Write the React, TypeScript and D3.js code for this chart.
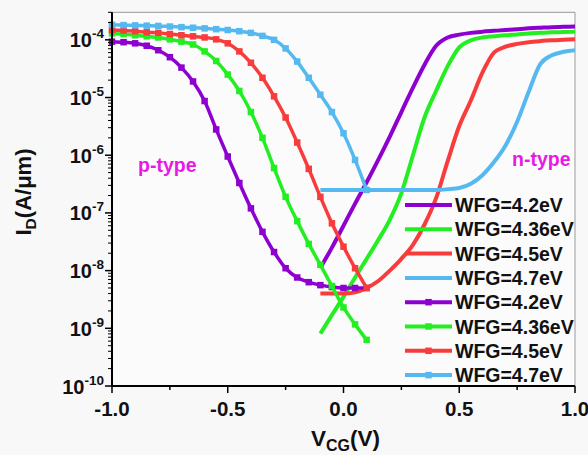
import React from "react";
import * as d3 from "d3";

// ---------- data ----------
const X_P = [-1.0, -0.95, -0.9, -0.85, -0.8, -0.75, -0.7, -0.65, -0.6, -0.55, -0.5, -0.45, -0.4, -0.35, -0.3, -0.25, -0.2, -0.15, -0.1, -0.05, 0.0, 0.05, 0.1];
const X_N = [-0.1, -0.05, 0.0, 0.05, 0.1, 0.15, 0.2, 0.25, 0.3, 0.35, 0.4, 0.45, 0.5, 0.55, 0.6, 0.65, 0.7, 0.75, 0.8, 0.85, 0.9, 0.95, 1.0];

// p-type (with markers)
const P_42 = [9.3e-5, 9.1e-5, 8.7e-5, 7.9e-5, 6.6e-5, 5.0e-5, 3.3e-5, 1.9e-5, 8.7e-6, 2.8e-6, 9.5e-7, 3.3e-7, 1.2e-7, 4.7e-8, 2.1e-8, 1.1e-8, 7.6e-9, 6.3e-9, 5.6e-9, 5.2e-9, 5.0e-9, 5.0e-9, 5.0e-9];
const P_436 = [1.29e-4, 1.26e-4, 1.2e-4, 1.15e-4, 1.1e-4, 1.02e-4, 9.3e-5, 8.3e-5, 6.3e-5, 4.3e-5, 2.5e-5, 1.3e-5, 5.6e-6, 2.0e-6, 6.0e-7, 1.9e-7, 7.2e-8, 2.9e-8, 1.26e-8, 5.4e-9, 2.3e-9, 1.17e-9, 6.3e-10];
const P_45 = [1.48e-4, 1.45e-4, 1.41e-4, 1.35e-4, 1.32e-4, 1.26e-4, 1.2e-4, 1.15e-4, 1.1e-4, 1.02e-4, 8.7e-5, 6.3e-5, 4.0e-5, 2.2e-5, 1.05e-5, 4.5e-6, 1.66e-6, 5.8e-7, 1.9e-7, 6.6e-8, 2.6e-8, 1.1e-8, 5.0e-9];
const P_47 = [1.82e-4, 1.8e-4, 1.78e-4, 1.76e-4, 1.74e-4, 1.7e-4, 1.66e-4, 1.62e-4, 1.58e-4, 1.53e-4, 1.48e-4, 1.41e-4, 1.32e-4, 1.17e-4, 1.0e-4, 7.1e-5, 4.2e-5, 2.2e-5, 1.12e-5, 5.6e-6, 2.4e-6, 8.3e-7, 2.5e-7];

// n-type (lines only)
const N_42 = [1.12e-8, 2.5e-8, 6.0e-8, 1.45e-7, 3.4e-7, 8.3e-7, 2.1e-6, 5.6e-6, 1.48e-5, 3.7e-5, 7.9e-5, 1.1e-4, 1.23e-4, 1.32e-4, 1.38e-4, 1.43e-4, 1.48e-4, 1.53e-4, 1.58e-4, 1.62e-4, 1.66e-4, 1.68e-4, 1.7e-4];
const N_436 = [8.1e-10, 1.7e-9, 3.5e-9, 7.6e-9, 1.6e-8, 3.4e-8, 7.6e-8, 2.2e-7, 1.0e-6, 4.5e-6, 1.3e-5, 3.5e-5, 7.4e-5, 9.8e-5, 1.1e-4, 1.15e-4, 1.2e-4, 1.24e-4, 1.29e-4, 1.32e-4, 1.35e-4, 1.36e-4, 1.38e-4];
const N_45 = [4.0e-9, 4.0e-9, 4.0e-9, 4.2e-9, 5.0e-9, 6.6e-9, 1.0e-8, 1.6e-8, 2.8e-8, 6.3e-8, 1.8e-7, 7.9e-7, 3.2e-6, 8.9e-6, 2.7e-5, 6.0e-5, 7.6e-5, 8.5e-5, 9.1e-5, 9.5e-5, 9.8e-5, 1.0e-4, 1.02e-4];
const N_47 = [2.5e-7, 2.5e-7, 2.5e-7, 2.5e-7, 2.5e-7, 2.5e-7, 2.5e-7, 2.5e-7, 2.5e-7, 2.5e-7, 2.5e-7, 2.57e-7, 2.7e-7, 3.2e-7, 4.5e-7, 7.6e-7, 1.48e-6, 3.8e-6, 1.26e-5, 3.8e-5, 5.4e-5, 6.2e-5, 6.6e-5];

const LEGEND_LABELS = ["WFG=4.2eV", "WFG=4.36eV", "WFG=4.5eV", "WFG=4.7eV", "WFG=4.2eV", "WFG=4.36eV", "WFG=4.5eV", "WFG=4.7eV"];
const X_TICKS_MAJOR = [-1.0, -0.5, 0.0, 0.5, 1.0];
const X_TICKS_MINOR = [-0.75, -0.25, 0.25, 0.75];
const X_TICK_LABELS = ["-1.0", "-0.5", "0.0", "0.5", "1.0"];
const Y_EXPONENTS = [-10, -9, -8, -7, -6, -5, -4];

const COLORS = ["#8E00D0", "#22EE22", "#F83C3C", "#55B9F0"];

const FONT = "'Liberation Sans', Arial, sans-serif";

export default function App() {
  const W = 588, H = 455;
  const L = 112, R = 575, T = 12.3, B = 386;
  const x = d3.scaleLinear().domain([-1, 1]).range([L, R]);
  const y = d3.scaleLog().domain([1e-10, 3e-4]).range([B, T]);

  const line = d3
    .line<[number, number]>()
    .x((d) => x(d[0]))
    .y((d) => y(d[1]))
    .curve(d3.curveMonotoneX);

  const nSeries = [N_42, N_436, N_45, N_47];
  const pSeries = [P_42, P_436, P_45, P_47];

  const minorY: number[] = [];
  for (let e = -10; e <= -4; e++) {
    for (let m = 2; m <= 9; m++) {
      const v = m * Math.pow(10, e);
      if (v <= 3.0001e-4) minorY.push(v);
    }
  }

  const legendY0 = 205;
  const legendStep = 24.3;

  return (
    <svg
      width={W}
      height={H}
      style={{ position: "absolute", left: 0, top: 0 }}
      fontFamily={FONT}
    >
      <rect x={0} y={0} width={W} height={H} fill="#f8f8f8" />
      <rect x={L} y={T} width={R - L} height={B - T} fill="#fbfbfb" />

      {/* frame top/right */}
      <line x1={L} x2={R} y1={T} y2={T} stroke="#aaaaaa" strokeWidth={1.2} />
      <line x1={R} x2={R} y1={T} y2={B} stroke="#aaaaaa" strokeWidth={1.2} />

      {/* n-type curves */}
      {nSeries.map((s, i) => (
        <path
          key={"n" + i}
          d={line(X_N.map((xv, j) => [xv, s[j]]) as [number, number][]) || ""}
          fill="none"
          stroke={COLORS[i]}
          strokeWidth={4}
        />
      ))}

      {/* p-type curves */}
      {pSeries.map((s, i) => (
        <g key={"p" + i}>
          <path
            d={line(X_P.map((xv, j) => [xv, s[j]]) as [number, number][]) || ""}
            fill="none"
            stroke={COLORS[i]}
            strokeWidth={3.5}
          />
          {X_P.map((xv, j) => (
            <rect
              key={j}
              x={x(xv) - 3.25}
              y={y(s[j]) - 3.25}
              width={6.5}
              height={6.5}
              fill={COLORS[i]}
            />
          ))}
        </g>
      ))}

      {/* axes */}
      <line x1={L} x2={L} y1={T} y2={B + 1} stroke="#000" strokeWidth={2} />
      <line x1={L - 1} x2={R} y1={B} y2={B} stroke="#000" strokeWidth={2} />

      {/* y ticks */}
      {Y_EXPONENTS.map((e) => (
        <line key={"ym" + e} x1={L - 7} x2={L} y1={y(Math.pow(10, e))} y2={y(Math.pow(10, e))} stroke="#000" strokeWidth={1.5} />
      ))}
      {minorY.map((v, i) => (
        <line key={"yn" + i} x1={L - 4} x2={L} y1={y(v)} y2={y(v)} stroke="#000" strokeWidth={1} />
      ))}
      {Y_EXPONENTS.map((e) => (
        <text
          key={"yl" + e}
          x={104}
          y={y(Math.pow(10, e)) + 7.5}
          textAnchor="end"
          fontSize={20}
          fontWeight="bold"
          fill="#111"
        >
          10
          <tspan fontSize={13.5} dy={-9}>
            {String(e)}
          </tspan>
        </text>
      ))}

      {/* x ticks */}
      {X_TICKS_MAJOR.map((v) => (
        <line key={"xm" + v} x1={x(v)} x2={x(v)} y1={B} y2={B + 7} stroke="#000" strokeWidth={1.5} />
      ))}
      {X_TICKS_MINOR.map((v) => (
        <line key={"xn" + v} x1={x(v)} x2={x(v)} y1={B} y2={B + 4} stroke="#000" strokeWidth={1.5} />
      ))}
      {X_TICKS_MAJOR.map((v, i) => (
        <text key={"xl" + v} x={x(v)} y={415.5} textAnchor="middle" fontSize={20.5} fontWeight="bold" fill="#111">
          {X_TICK_LABELS[i]}
        </text>
      ))}

      {/* axis titles */}
      <text x={(L + R) / 2 + 2} y={446} textAnchor="middle" fontSize={22.5} fontWeight="bold" fill="#111">
        V<tspan fontSize={16} dy={5}>CG</tspan>
        <tspan dy={-5}>(V)</tspan>
      </text>
      <text
        transform={`translate(31, 192) rotate(-90)`}
        textAnchor="middle"
        fontSize={22}
        fontWeight="bold"
        fill="#111"
      >
        I<tspan fontSize={15.5} dy={5}>D</tspan>
        <tspan dy={-5}>(A/μm)</tspan>
      </text>

      {/* annotations */}
      <text x={138} y={172} fontSize={19.5} fontWeight="bold" fill="#E619E6">p-type</text>
      <text x={512} y={165.5} fontSize={19.5} fontWeight="bold" fill="#E619E6">n-type</text>

      {/* legend */}
      {LEGEND_LABELS.map((lab, i) => {
        const yy = legendY0 + i * legendStep;
        const c = COLORS[i % 4];
        return (
          <g key={"lg" + i}>
            <line x1={405} x2={452} y1={yy} y2={yy} stroke={c} strokeWidth={4} />
            {i >= 4 && <rect x={428.5 - 3.25} y={yy - 3.25} width={6.5} height={6.5} fill={c} />}
            <text x={455} y={yy + 7} fontSize={19.5} fontWeight="bold" fill="#111">
              {lab}
            </text>
          </g>
        );
      })}
    </svg>
  );
}
